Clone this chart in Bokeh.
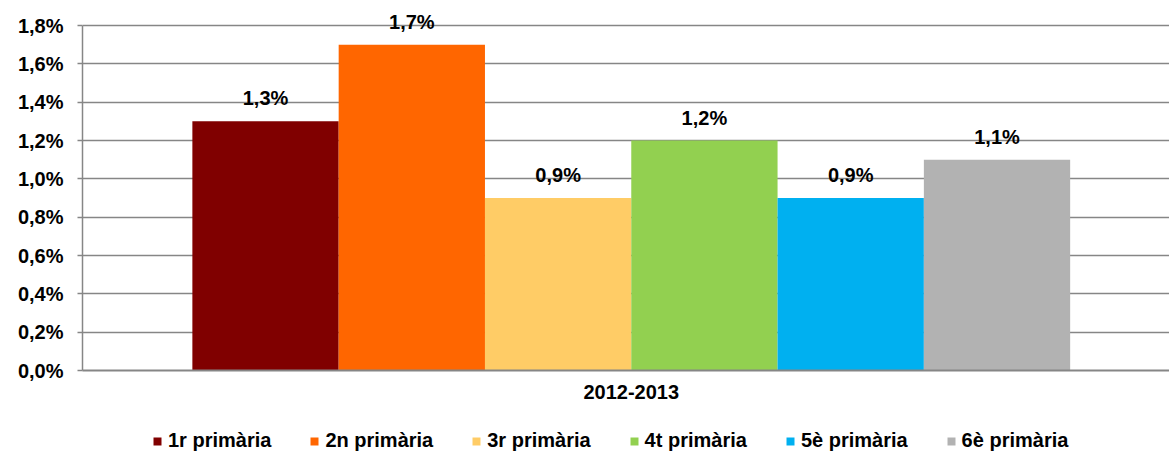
from bokeh.plotting import figure
from bokeh.layouts import column
from bokeh.models import (ColumnDataSource, Range1d, FixedTicker, Legend, LegendItem)
from bokeh.core.properties import value
from bokeh.embed import file_html
from bokeh.resources import INLINE

# ---- data ----
period = "2012-2013"
courses = ["1r primària", "2n primària", "3r primària", "4t primària", "5è primària", "6è primària"]
rates = [1.3, 1.7, 0.9, 1.2, 0.9, 1.1]
colors = ["#800000", "#FF6600", "#FFCC66", "#92D050", "#00B0F0", "#B2B2B2"]
y_ticks = [0.0, 0.2, 0.4, 0.6, 0.8, 1.0, 1.2, 1.4, 1.6, 1.8]
y_tick_labels = ["0,0%", "0,2%", "0,4%", "0,6%", "0,8%", "1,0%", "1,2%", "1,4%", "1,6%", "1,8%"]

FONT = "Liberation Sans"

xs = list(range(len(courses)))
labels = [f"{v:.1f}%".replace(".", ",") for v in rates]
src = ColumnDataSource(dict(x=xs, top=rates, color=colors, course=courses, label=labels))

p = figure(width=1169, height=428, output_backend="svg", toolbar_location=None,
           x_range=Range1d(-1.251, 6.179), y_range=Range1d(0, 1.8 * 370 / 345),
           min_border_left=82, min_border_right=0, min_border_top=0, min_border_bottom=58)
p.outline_line_color = None
p.background_fill_color = "white"
p.border_fill_color = "white"

p.vbar(x="x", top="top", width=1.0, source=src, fill_color="color", line_color=None)

p.text(x="x", y="top", text="label", source=src, text_align="center", text_baseline="middle",
       y_offset=-23, text_font=value(FONT), text_font_style="bold", text_font_size="20px",
       text_color="black")

# y axis
p.yaxis.ticker = FixedTicker(ticks=y_ticks)
p.yaxis.bounds = (0, 1.8)
p.yaxis.major_label_overrides = {t: l for t, l in zip(y_ticks, y_tick_labels)}
p.yaxis.major_label_text_font = FONT
p.yaxis.major_label_text_font_style = "bold"
p.yaxis.major_label_text_font_size = "20px"
p.yaxis.major_label_text_color = "black"
p.yaxis.axis_line_color = "#868686"
p.yaxis.axis_line_width = 1.5
p.yaxis.major_tick_line_color = "#868686"
p.yaxis.major_tick_line_width = 1.5
p.yaxis.major_tick_out = 5
p.yaxis.major_tick_in = 0
p.yaxis.minor_tick_line_color = None
p.yaxis.major_label_standoff = 14

# x axis
center = (len(courses) - 1) / 2
p.xaxis.ticker = FixedTicker(ticks=[center])
p.xaxis.major_label_overrides = {center: period}
p.xaxis.major_label_text_font = FONT
p.xaxis.major_label_text_font_style = "bold"
p.xaxis.major_label_text_font_size = "20px"
p.xaxis.major_label_text_color = "black"
p.xaxis.axis_line_color = "#868686"
p.xaxis.axis_line_width = 2
p.xaxis.major_tick_line_color = None
p.xaxis.major_tick_out = 0
p.xaxis.major_tick_in = 0
p.xaxis.minor_tick_line_color = None
p.xaxis.major_label_standoff = 14

p.xgrid.grid_line_color = None
p.ygrid.ticker = FixedTicker(ticks=y_ticks)
p.ygrid.grid_line_color = "#868686"
p.ygrid.grid_line_width = 1.5

# legend strip (separate figure below the chart); its ranges keep the bars
# out of view so that only their legend swatches show
pl = figure(width=1169, height=26, output_backend="svg", toolbar_location=None,
            x_range=Range1d(100, 101), y_range=Range1d(100, 101),
            min_border=0, min_border_left=0, min_border_right=0,
            min_border_top=0, min_border_bottom=0)
pl.axis.visible = False
pl.grid.visible = False
pl.outline_line_color = None
pl.background_fill_color = "white"
pl.border_fill_color = "white"
rl = pl.vbar(x="x", top="top", width=1.0, source=src, fill_color="color", line_color=None)
items = [LegendItem(label=c, renderers=[rl], index=i) for i, c in enumerate(courses)]
legend = Legend(items=items, orientation="horizontal", location=(70, 2),
                glyph_width=10, glyph_height=10, label_standoff=6, spacing=38,
                padding=0, margin=0, border_line_color=None, background_fill_alpha=0,
                label_text_font=FONT, label_text_font_style="bold", label_text_font_size="20px",
                label_text_color="black")
pl.add_layout(legend, "center")

layout = column(p, pl, spacing=0)
open("out.html", "w").write(file_html(layout, INLINE))
